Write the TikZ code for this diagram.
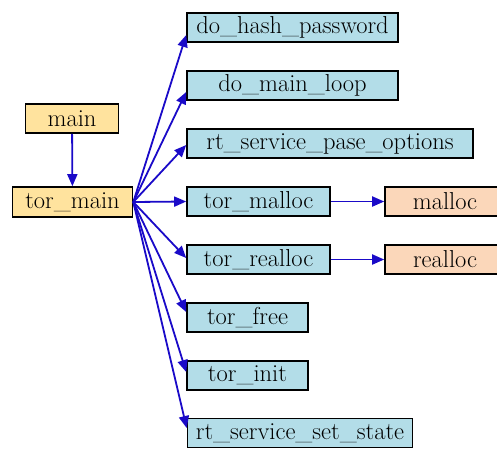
\documentclass[tikz,border=0pt]{standalone}
\usepackage{fontspec}
\setmainfont{Latin Modern Roman}
\usetikzlibrary{arrows.meta,calc}
\definecolor{ylw}{HTML}{FFE39E}
\definecolor{blu}{HTML}{B3DDE8}
\definecolor{pch}{HTML}{FBD7BA}
\definecolor{edg}{HTML}{1A0AC8}
\begin{document}
\begin{tikzpicture}[x=1pt,y=-1pt,
  box/.style={draw=black,line width=1.6pt,inner sep=0pt,minimum height=29pt,
    font=\fontsize{24.5}{28}\selectfont,anchor=center},
  yb/.style={box,fill=ylw},
  bb/.style={box,fill=blu},
  pb/.style={box,fill=pch},
  edge/.style={draw=edg,line width=1.8pt,-{Triangle[length=12pt,width=10pt]}}]
\useasboundingbox (0,0) rectangle (497,448);
\node[yb,minimum width=93pt] (mn) at (72,118.5) {main};
\node[yb,minimum width=120pt,minimum height=30pt] (tm) at (72.5,202) {tor\_main};
\node[bb,minimum width=211pt] (dh) at (292.5,27.5) {do\_hash\_password};
\node[bb,minimum width=211pt] (dm) at (292.5,85.5) {do\_main\_loop};
\node[bb,minimum width=286pt] (rp) at (330,143.5) {rt\_service\_pase\_options};
\node[bb,minimum width=143pt] (tma) at (258.5,201.5) {tor\_malloc};
\node[bb,minimum width=143pt] (tre) at (258.5,259.5) {tor\_realloc};
\node[bb,minimum width=121pt] (tf) at (247.5,317.5) {tor\_free};
\node[bb,minimum width=121pt] (ti) at (247.5,375.5) {tor\_init};
\node[bb,minimum width=225pt] (rs) at (300,433) {rt\_service\_set\_state};
\node[pb,minimum width=120pt] (ma) at (445,201.5) {malloc};
\node[pb,minimum width=120pt] (ra) at (445,259.5) {realloc};
\coordinate (src) at (tm.east);
\draw[edge] (mn) -- (tm);
\draw[edge] (src) -- ($(dh.west)+(0,7.5)$);
\draw[edge] (src) -- ($(dm.west)+(0,6.5)$);
\draw[edge] (src) -- ($(rp.west)+(0,1.5)$);
\draw[edge] (src) -- (tma.west);
\draw[edge] (src) -- ($(tre.west)+(0,-1.5)$);
\draw[edge] (src) -- ($(tf.west)+(0,-5.5)$);
\draw[edge] (src) -- ($(ti.west)+(0,-3.5)$);
\draw[edge] (src) -- ($(rs.west)+(0,-5)$);
\draw[edge] (tma) -- (ma);
\draw[edge] (tre) -- (ra);
\end{tikzpicture}
\end{document}
